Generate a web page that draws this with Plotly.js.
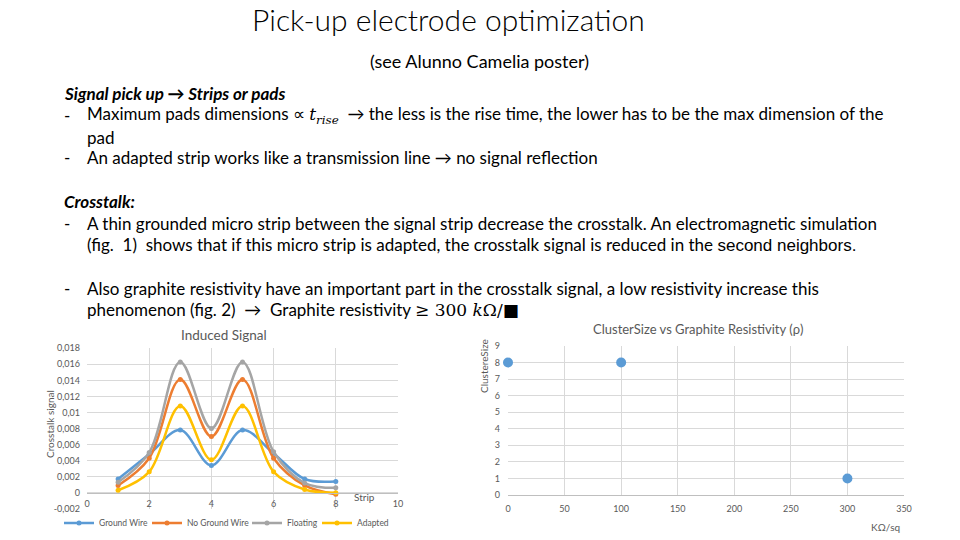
<!DOCTYPE html>
<html>
<head>
<meta charset="utf-8">
<script src="https://cdn.plot.ly/plotly-3.0.1.min.js"></script>
<style>html,body{margin:0;padding:0;background:#fff;}#chart{width:960px;height:540px;}</style>
</head>
<body>
<div id="chart"></div>
<script>
// ---- data ----
const strips = [1, 2, 3, 4, 5, 6, 7, 8];
const groundWire   = [0.0017, 0.0048, 0.0078, 0.0034, 0.0078, 0.0049, 0.0017, 0.0014];
const noGroundWire = [0.0009, 0.0043, 0.0141, 0.0070, 0.0141, 0.0043, 0.0009, -0.0002];
const floating     = [0.0013, 0.0050, 0.0163, 0.0080, 0.0163, 0.0051, 0.0012, 0.0006];
const adapted      = [0.0003, 0.0026, 0.0108, 0.0041, 0.0108, 0.0026, 0.0004, 0.0000];
const seriesNames  = ["Ground Wire", "No Ground Wire", "Floating", "Adapted"];

const resistivity  = [0, 100, 300];
const clusterSize  = [8, 8, 1];

const yTickVals  = [-0.002, 0, 0.002, 0.004, 0.006, 0.008, 0.01, 0.012, 0.014, 0.016, 0.018];
const yTickText  = ["-0,002", "0", "0,002", "0,004", "0,006", "0,008", "0,01", "0,012", "0,014", "0,016", "0,018"];

// ---- styles ----
const colors = ["#5B9BD5", "#ED7D31", "#A5A5A5", "#FFC000"];
const W = 960, H = 540;
const px = v => v / W, py = v => 1 - v / H;
const tickFont = {family: "Lato, Arial, sans-serif", size: 9, color: "#595959"};
const grid = "#D9D9D9";
const chartFont = (s) => ({family: "Lato, sans-serif", size: s, color: "#595959"});

const legendIds = ["legend", "legend2", "legend3", "legend4"];
const legendTextX = [101, 189, 289, 359];

const allSeries = [groundWire, noGroundWire, floating, adapted];
const traces = allSeries.map((ys, i) => ({
  type: "scatter", mode: "lines+markers",
  x: strips, y: ys, name: seriesNames[i], legend: legendIds[i],
  line: {color: colors[i], width: 2.5, shape: "spline", smoothing: 1},
  marker: {color: colors[i], size: 5},
  xaxis: "x", yaxis: "y"
}));
traces.push({
  type: "scatter", mode: "markers",
  x: resistivity, y: clusterSize, showlegend: false,
  marker: {color: "#5B9BD5", size: 10},
  xaxis: "x2", yaxis: "y2", cliponaxis: false
});

const yDom1 = [py(508.7), py(348.3)];
const zeroPos = yDom1[0] + 0.1 * (yDom1[1] - yDom1[0]);

const bodyFont = {family: "Lato, 'Open Sans', sans-serif", size: 17, color: "#000"};
function txt(x, y, text, extra) {
  return Object.assign({xref: "paper", yref: "paper", x: px(x), y: py(y), xanchor: "left", yanchor: "middle",
    showarrow: false, text: text, font: bodyFont}, extra || {});
}
const serif = "font-family:'DejaVu Serif','Liberation Serif',serif";

const annotations = [
  txt(448, 19, "Pick-up electrode optimization", {xanchor: "center", font: {family: "Lato, sans-serif", size: 30, color: "#000", weight: 300}}),
  txt(479, 61, "(see Alunno Camelia poster)", {xanchor: "center", font: {family: "Lato, sans-serif", size: 18, color: "#000"}}),
  txt(62, 93, "<b><i>Signal pick up → Strips or pads</i></b>"),
  txt(62, 115, "-"),
  txt(85, 115, "Maximum pads dimensions ∝ <span style=\"" + serif + "\"><i>t</i><sub><i>rise</i></sub></span>  → the less is the rise time, the lower has to be the max dimension of the"),
  txt(85, 137, "pad"),
  txt(62, 158, "-"),
  txt(85, 158, "An adapted strip works like a transmission line → no signal reflection"),
  txt(62, 202, "<b><i>Crosstalk:</i></b>"),
  txt(62, 223, "-"),
  txt(85, 223, "A thin grounded micro strip between the signal strip decrease the crosstalk. An electromagnetic simulation"),
  txt(85, 244, "(fig.  1)  shows that if this micro strip is adapted, the crosstalk signal is reduced in the <span style=\"font-family:'Liberation Sans',Arial,sans-serif\">second neighbors.</span>"),
  txt(62, 288, "-"),
  txt(85, 288, "Also graphite resistivity have an important part in the crosstalk signal, a low resistivity increase this"),
  txt(85, 309, "phenomenon (fig. 2)  →  Graphite resistivity <span style=\"" + serif + "\">≥ 300 <i>k</i>Ω/■</span>"),
  txt(224, 335, "Induced Signal", {xanchor: "center", font: chartFont(13.5)}),
  txt(698, 329, "ClusterSize vs Graphite Resistivity (ρ)", {xanchor: "center", font: chartFont(13)}),
  txt(364, 497, "Strip", {xanchor: "center", font: chartFont(10)}),
  txt(50, 424, "Crosstalk signal", {xanchor: "center", textangle: -90, font: chartFont(10)}),
  txt(484, 366, "ClustereSize", {xanchor: "center", textangle: -90, font: chartFont(10)}),
  txt(885, 527, "KΩ/sq", {xanchor: "center", font: chartFont(10)})
];

const layout = {
  width: W, height: H,
  margin: {l: 0, r: 0, t: 0, b: 0},
  paper_bgcolor: "#fff", plot_bgcolor: "#fff",
  showlegend: true,
  xaxis: {domain: [px(87), px(398)], range: [0, 10], dtick: 2, tick0: 0, anchor: "free", position: zeroPos,
    showgrid: true, gridcolor: grid, showline: true, linecolor: "#BFBFBF", ticks: "", zeroline: false,
    tickfont: tickFont, ticklabelstandoff: 3},
  yaxis: {domain: yDom1, range: [-0.002, 0.018], tickvals: yTickVals, ticktext: yTickText,
    showgrid: true, gridcolor: grid, zeroline: false, showline: false, ticks: "", tickfont: tickFont,
    ticklabelstandoff: 6},
  xaxis2: {domain: [px(508), px(904)], range: [0, 350], dtick: 50, tick0: 0, anchor: "y2",
    showgrid: true, gridcolor: grid, showline: true, linecolor: "#BFBFBF", ticks: "", zeroline: false,
    tickfont: tickFont, ticklabelstandoff: 5},
  yaxis2: {domain: [py(495), py(346)], range: [0, 9], dtick: 1, tick0: 0, anchor: "x2",
    showgrid: true, gridcolor: grid, zeroline: false, showline: false, ticks: "", tickfont: tickFont,
    ticklabelstandoff: 7},
  annotations: annotations
};
legendIds.forEach((id, i) => {
  layout[id] = {orientation: "h", x: px(legendTextX[i] - 42), xanchor: "left", y: py(523), yanchor: "middle",
    font: chartFont(8.5), itemwidth: 30, bgcolor: "rgba(0,0,0,0)"};
});

Plotly.newPlot("chart", traces, layout, {displayModeBar: false, staticPlot: true});
</script>
</body>
</html>
